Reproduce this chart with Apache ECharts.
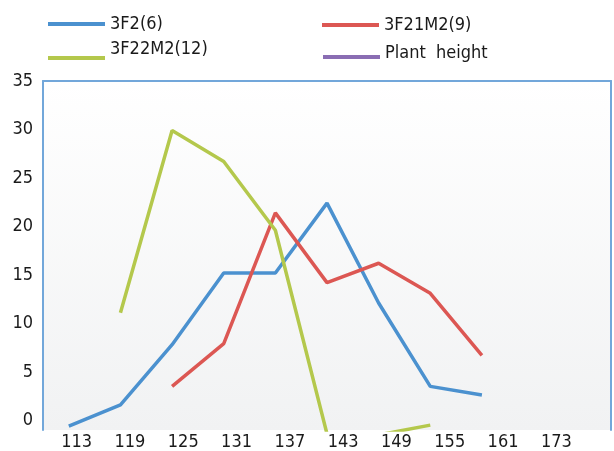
<!DOCTYPE html>
<html><head><meta charset="utf-8">
<script src="https://cdn.jsdelivr.net/npm/echarts@6/dist/echarts.min.js"></script>
<style>html,body{margin:0;padding:0;background:#fff}#c{width:614px;height:451px}</style>
</head><body><div id="c"></div>
<script>
const categories = ['113','119','125','131','137','143','149','155','161','167','173'];
const xTickLabels = ['113','119','125','131','137','143','149','155','161','173'];
const yTicks = [0,5,10,15,20,25,30,35];
const seriesNames = ['3F2(6)','3F21M2(9)','3F22M2(12)','Plant  height'];
const s3F2 = [-0.6, 1.6, 7.8, 15.2, 15.2, 22.4, 12.1, 3.5, 2.6, null, null];
const s3F21M2 = [null, null, 3.5, 7.9, 21.4, 14.2, 16.2, 13.1, 6.7, null, null];
const s3F22M2 = [null, 11.1, 29.9, 26.7, 19.6, -1.4, -1.5, -0.5, null, null, null];
const plantHeight = [];

const FONT = "'DejaVu Sans Condensed','Liberation Sans Narrow',sans-serif";
const FS = 18;
const colors = ['#4b91cf','#dc5753','#b4c84c','#8a6db3'];
const borderColor = '#72a7da';

const chart = echarts.init(document.getElementById('c'), null, {renderer:'canvas'});
function legend(i, left, top, padBottom){
  return {
    data:[seriesNames[i]], left:left, top:top, padding:0, icon:'rect',
    itemWidth:57, itemHeight:4, selectedMode:false,
    formatter: function(name){ return '{t|' + name + '}'; },
    textStyle:{fontFamily:FONT, fontSize:FS, color:'#1a1a1a',
      rich:{t:{fontFamily:FONT, fontSize:FS, color:'#1a1a1a', padding:[0,0,padBottom,0]}}}
  };
}
const yMin = -1, yMax = 35;
chart.setOption({
  animation:false,
  color: colors,
  legend:[
    legend(0, 48, 15, 0),
    legend(1, 322, 16, 0),
    legend(2, 48, 40, 18),
    legend(3, 323, 44, 8)
  ],
  grid:[
    {left:43, right:3, top:81, bottom:21, show:true, borderWidth:0,
     backgroundColor:{type:'linear',x:0,y:0,x2:0,y2:1,colorStops:[{offset:0,color:'#ffffff'},{offset:1,color:'#f1f2f3'}]}},
    {left:50, width:533, top:81, bottom:21}
  ],
  xAxis:[
    {type:'category', gridIndex:0, data:categories, boundaryGap:true,
     axisLine:{show:false}, axisTick:{show:false}, axisLabel:{show:false}, splitLine:{show:false}},
    {type:'category', gridIndex:0, position:'top', data:categories,
     axisLine:{show:true, onZero:false, lineStyle:{color:borderColor, width:2}},
     axisTick:{show:false}, axisLabel:{show:false}},
    {type:'category', gridIndex:1, data:xTickLabels,
     axisLine:{show:false}, axisTick:{show:false}, splitLine:{show:false},
     axisLabel:{show:true, interval:0, margin:8, fontFamily:FONT, fontSize:FS, color:'#1a1a1a'}}
  ],
  yAxis:[
    {type:'value', gridIndex:0, min:yMin, max:yMax,
     axisLine:{show:true, onZero:false, lineStyle:{color:borderColor, width:2}},
     axisTick:{show:false}, splitLine:{show:false},
     axisLabel:{show:true, customValues:yTicks, margin:10, fontFamily:FONT, fontSize:FS, color:'#1a1a1a'}},
    {type:'value', gridIndex:0, position:'right', min:yMin, max:yMax,
     axisLine:{show:true, onZero:false, lineStyle:{color:borderColor, width:2}},
     axisTick:{show:false}, splitLine:{show:false}, axisLabel:{show:false}},
    {type:'value', gridIndex:1, show:false, min:yMin, max:yMax}
  ],
  series:[
    {name:seriesNames[0], type:'line', data:s3F2, showSymbol:false, symbol:'none', lineStyle:{width:3.5, color:colors[0]}, itemStyle:{color:colors[0]}},
    {name:seriesNames[1], type:'line', data:s3F21M2, showSymbol:false, symbol:'none', lineStyle:{width:3.5, color:colors[1]}, itemStyle:{color:colors[1]}},
    {name:seriesNames[2], type:'line', data:s3F22M2, showSymbol:false, symbol:'none', lineStyle:{width:3.5, color:colors[2]}, itemStyle:{color:colors[2]}},
    {name:seriesNames[3], type:'line', data:plantHeight, showSymbol:false, symbol:'none', lineStyle:{width:3.5, color:colors[3]}, itemStyle:{color:colors[3]}}
  ]
});
</script></body></html>
